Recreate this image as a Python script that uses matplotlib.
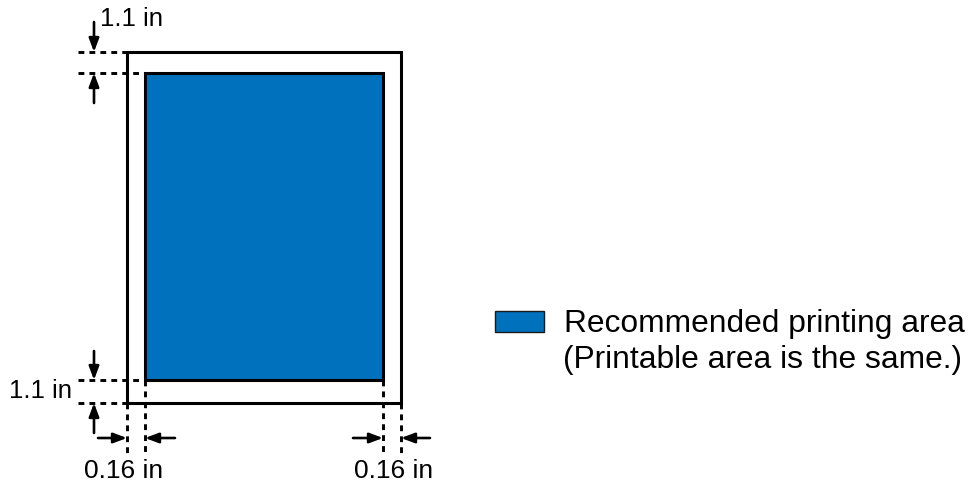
import matplotlib
matplotlib.use("Agg")
import matplotlib.pyplot as plt
from matplotlib.patches import Rectangle, FancyArrowPatch

# ---- diagram data (pixel-like diagram units, y grows downward) ----
paper_box = [127, 52, 401, 403]        # left, top, right, bottom of paper
print_box = [145, 73, 383, 380]        # recommended printing area
dim_top_label = "1.1 in"
dim_bottom_label = "1.1 in"
dim_side_label = "0.16 in"
legend_lines = ["Recommended printing area", "(Printable area is the same.)"]
fill_color = "#0071BC"

plt.rcParams['font.family'] = ['Liberation Sans', 'DejaVu Sans']

fig = plt.figure(figsize=(9.74, 4.82), dpi=100)
ax = fig.add_axes([0, 0, 1, 1])
ax.set_xlim(0, 974)
ax.set_ylim(482, 0)
ax.axis('off')

L, T, R, B = paper_box
l, t, r, b = print_box

# paper outline
ax.add_patch(Rectangle((L, T), R - L, B - T, fill=False, ec='black', lw=2.2, zorder=3))
# printing area
ax.add_patch(Rectangle((l, t), r - l, b - t, fc=fill_color, ec='black', lw=2.2, zorder=3))

dash = dict(color='black', lw=2.1, ls=(0, (2.0, 1.75)), zorder=2, solid_capstyle='butt',
            dash_capstyle='butt')
ext_x0 = 78
# horizontal extension lines
ax.plot([ext_x0, L], [T, T], **dash)
ax.plot([ext_x0, l], [t, t], **dash)
ax.plot([ext_x0, l], [b, b], **dash)
ax.plot([ext_x0, L], [B, B], **dash)
# vertical extension lines
ext_y1 = 453
ax.plot([L, L], [B, ext_y1], **dash)
ax.plot([l, l], [b, ext_y1], **dash)
ax.plot([r, r], [b, ext_y1], **dash)
ax.plot([R, R], [B, ext_y1], **dash)


def arrow(x0, y0, x1, y1):
    ax.add_patch(FancyArrowPatch((x0, y0), (x1, y1),
                                 arrowstyle='-|>,head_length=0.8,head_width=0.3',
                                 mutation_scale=10, lw=1.9, color='black',
                                 shrinkA=0, shrinkB=0, zorder=4))


ax_x = 94
arrow(ax_x, T - 30, ax_x, T)
arrow(ax_x, t + 30, ax_x, t)
arrow(ax_x, b - 29, ax_x, b)
arrow(ax_x, B + 30, ax_x, B)

ay = 438
arrow(L - 29, ay, L, ay)
arrow(l + 30, ay, l, ay)
arrow(r - 30, ay, r, ay)
arrow(R + 29, ay, R, ay)

fs = 18.5
ax.text(100, 26, dim_top_label, fontsize=fs, ha='left', va='baseline')
ax.text(72, 398, dim_bottom_label, fontsize=fs, ha='right', va='baseline')
ax.text((L + l) / 2 - 12, 478, dim_side_label, fontsize=fs + 0.5, ha='center', va='baseline')
ax.text((r + R) / 2 + 2, 478, dim_side_label, fontsize=fs + 0.5, ha='center', va='baseline')

# legend
ax.add_patch(Rectangle((495, 311), 49, 21, fc=fill_color, ec='#1a1a1a', lw=1.0))
ax.text(564, 332, legend_lines[0], fontsize=22.9, ha='left', va='baseline')
ax.text(563, 368, legend_lines[1], fontsize=22.9, ha='left', va='baseline')

fig.savefig("out.png", dpi=100)
